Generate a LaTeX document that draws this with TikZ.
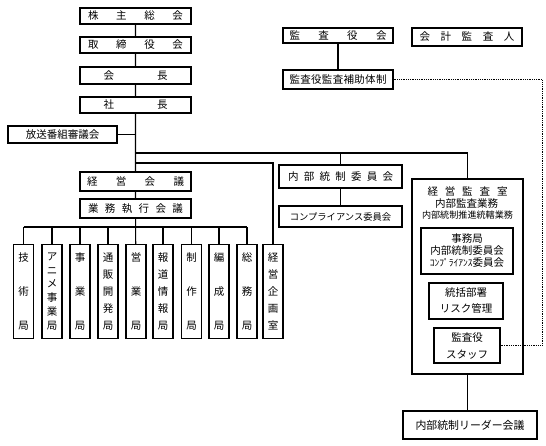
\documentclass[tikz,border=0pt]{standalone}
\usepackage{fontspec}
\setmainfont{Noto Sans CJK JP}
\newcommand{\spr}[2]{\makebox[#1][s]{#2}}
\newcommand{\tate}[1]{\vbox to 77pt{\foreach[count=\k] \c in #1{\ifnum\k>1 \vfil\fi\hbox{\c}}}}
\begin{document}
\begin{tikzpicture}[x=1pt,y=-1pt,
  box/.style={draw,line width=1.1pt,inner sep=0pt,font=\fontsize{10.5}{12}\selectfont,align=center},
  bureau/.style={box,minimum width=20pt,minimum height=94pt},
  link/.style={line width=1.1pt},
  aux/.style={line width=0.8pt,densely dotted}]
\useasboundingbox (0,0) rectangle (546,445);

% top of the company
\node[box,minimum width=111pt,minimum height=16pt] (kabunushi) at (135.5,16) {\spr{95pt}{株\hfil 主\hfil 総\hfil 会}};
\node[box,minimum width=111pt,minimum height=16pt] (torishimari) at (135.5,45) {\spr{95pt}{取\hfil 締\hfil 役\hfil 会}};
\node[box,minimum width=111pt,minimum height=17pt] (kaicho) at (135.5,75.5) {\spr{64pt}{会\hfil 長}};
\node[box,line width=1.8pt,minimum width=111pt,minimum height=16pt] (shacho) at (135.5,105) {\spr{64pt}{社\hfil 長}};
\node[box,minimum width=109pt,minimum height=17pt] (bangumi) at (62.5,134.5) {放送番組審議会};
\node[box,minimum width=111pt,minimum height=19pt] (keieikaigi) at (135.5,181.5) {\spr{97pt}{経\hfil 営\hfil 会\hfil 議}};
\node[box,minimum width=111pt,minimum height=19pt] (shikko) at (135.5,208.5) {\spr{95pt}{業\hfil 務\hfil 執\hfil 行\hfil 会\hfil 議}};

% auditors
\node[box,minimum width=110pt,minimum height=15pt] (kansayakukai) at (338,35.5) {\spr{97pt}{監\hfil 査\hfil 役\hfil 会}};
\node[box,minimum width=110pt,minimum height=18pt] (kaikei) at (467,37) {\spr{95pt}{会\hfil 計\hfil 監\hfil 査\hfil 人}};
\node[box,minimum width=110pt,minimum height=19pt] (hojo) at (338,79.5) {\spr{97pt}{監\hfil 査\hfil 役\hfil 監\hfil 査\hfil 補\hfil 助\hfil 体\hfil 制}};

% committees
\node[box,minimum width=123pt,minimum height=23pt] (naibu) at (340.5,176.5) {\spr{105pt}{内\hfil 部\hfil 統\hfil 制\hfil 委\hfil 員\hfil 会}};
\node[box,minimum width=123pt,minimum height=21pt,font=\fontsize{9.3}{11}\selectfont] (compli) at (340.5,216.5) {コンプライアンス委員会};

% audit office
\node[box,minimum width=111pt,minimum height=195pt] (kansashitsu) at (467.5,276.5) {};
\node[font=\fontsize{10.5}{12}\selectfont,inner sep=0pt] (kstitle) at (467.5,192) {\spr{80pt}{経\hfil 営\hfil 監\hfil 査\hfil 室}};
\node[font=\fontsize{10.5}{12}\selectfont,inner sep=0pt] (kswork) at (466.5,203.5) {内部監査業務};
\node[font=\fontsize{9.1}{11}\selectfont,inner sep=0pt] (kspromo) at (467.5,215.5) {内部統制推進統轄業務};
\node[box,minimum width=92pt,minimum height=46pt] (jimu) at (467,251) {事務局\\内部統制委員会\\{\fontsize{9.5}{12}\selectfont ｺﾝﾌﾟﾗｲｱﾝｽ}委員会};
\node[box,minimum width=74pt,minimum height=36pt] (tokatsu) at (466,301) {統括部署\\[4pt]リスク管理};
\node[box,minimum width=66pt,minimum height=35pt] (staff) at (467,345.5) {監査役\\[5pt]スタッフ};
\node[box,minimum width=134pt,minimum height=28pt,font=\fontsize{10.9}{12}\selectfont] (leader) at (470,425) {内部統制リーダー会議};

% bureaus
\foreach \x/\n/\t in {23.5/gijutsu/{技,術,局},52/anime/{ア,ニ,メ,事,業,局},80/jigyo/{事,業,局},
    108/tsuhan/{通,販,開,発,局},136/eigyo/{営,業,局},163/hodo/{報,道,情,報,局},
    191.5/seisaku/{制,作,局},219/hensei/{編,成,局},247/somu/{総,務,局},273/keikaku/{経,営,企,画,室}}
  \node[bureau] (\n) at (\x,291.5) {\tate{\t}};

% connectors
\draw[link] (kabunushi) -- (torishimari) -- (kaicho) -- (shacho) -- (keieikaigi) -- (shikko) -- (eigyo);
\draw[link] (bangumi) -- (bangumi -| shacho);
\coordinate (bus1) at (135.5,153);
\coordinate (bus2) at (135.5,163);
\coordinate (bus3) at (135.5,227);
\draw[link] (bus1) -| (kansashitsu);
\draw[link] (naibu) -- (naibu |- bus1);
\draw[link] (naibu) -- (compli);
\draw[link] (bus2) -| (keikaku);
\draw[link] (gijutsu |- bus3) -- (somu |- bus3);
\foreach \n in {gijutsu,anime,jigyo,tsuhan,hodo,seisaku,hensei,somu}
  \draw[link] (\n) -- (\n |- bus3);
\draw[link] (kansayakukai) -- (hojo);
\draw[link] (kansashitsu.south) -- (kansashitsu.south |- leader.north);
\coordinate (edge) at (542,0);
\draw[aux] (hojo.east) -- (hojo.east -| edge) |- (staff.east);

\end{tikzpicture}
\end{document}
